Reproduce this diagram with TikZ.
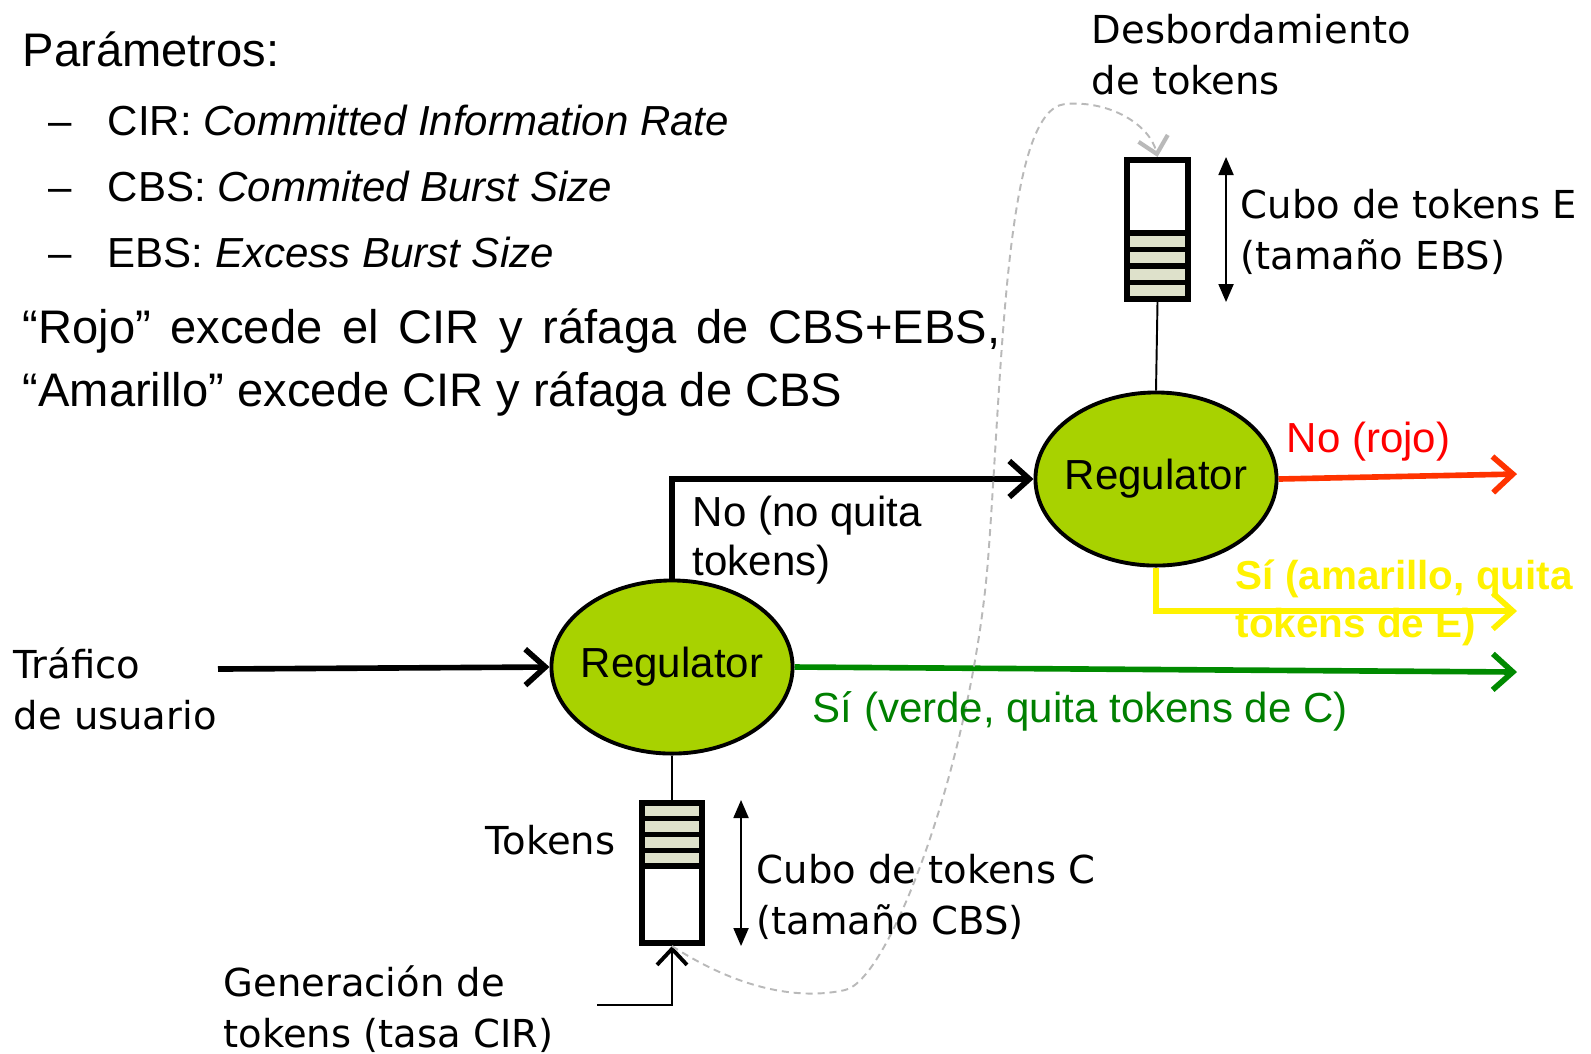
\documentclass[tikz,border=0pt]{standalone}
\usepackage{fontspec}
\setmainfont{Liberation Sans}
\newfontfamily\handfont{DejaVu Sans}
\usetikzlibrary{shapes.geometric,arrows.meta,positioning}
\definecolor{regfill}{RGB}{168,210,0}
\definecolor{okgreen}{RGB}{0,138,0}
\definecolor{oktext}{RGB}{0,128,0}
\definecolor{nored}{RGB}{255,51,0}
\definecolor{tokfill}{RGB}{222,225,203}
\definecolor{overgray}{RGB}{185,185,185}

\begin{document}
\begin{tikzpicture}[x=0.01cm,y=-0.01cm]
\tikzstyle{plain text}=[inner sep=0,anchor=base west,align=left,font=\fontsize{11.95}{13.9}\selectfont]
\tikzstyle{big text}=[inner sep=0,anchor=base west,font=\fontsize{13.4}{16}\selectfont]
\tikzstyle{hand text}=[inner sep=0,anchor=base west,align=left,font=\handfont\fontsize{10.95}{14.5}\selectfont]
\tikzset{
	regulator node/.style={ellipse,draw,line width=1.1pt,fill=regfill,minimum width=2.41cm,minimum height=1.73cm,inner xsep=-0.15cm,inner ysep=0,font=\fontsize{11.95}{14}\selectfont},
	bucket node/.style={rectangle,draw,line width=1.7pt,minimum width=0.61cm,minimum height=1.39cm,inner sep=0},
	flow/.style={line width=1.6pt,-{Straight Barb[length=2mm,width=3.6mm]}},
	thin line/.style={line width=0.55pt},
	size arrow/.style={line width=0.55pt,{Triangle[length=1.8mm,width=1.5mm]}-{Triangle[length=1.8mm,width=1.5mm]}},
	overflow/.style={overgray,line width=0.55pt,dash pattern=on 2pt off 1.4pt,-{Straight Barb[length=1.6mm,width=3mm,line width=1.2pt]}}
}
\useasboundingbox (0,0) rectangle (1591,1053);

% parameters text
\node[big text] (params) at (22,66) {Parámetros:};
\node[plain text] (dash1) at (48,135) {–};
\node[plain text] (cir) at (107,135) {CIR: \textit{Committed Information Rate}};
\node[plain text] (dash2) at (48,201) {–};
\node[plain text] (cbs) at (107,201) {CBS: \textit{Commited Burst Size}};
\node[plain text] (dash3) at (48,267) {–};
\node[plain text] (ebs) at (107,267) {EBS: \textit{Excess Burst Size}};
\node[big text] (rojo) at (22,343) {\makebox[9.77cm][s]{“Rojo” excede el CIR y ráfaga de CBS+EBS,}};
\node[big text] (amarillo) at (22,406) {“Amarillo” excede CIR y ráfaga de CBS};

% regulators
\node[regulator node] (regC) at (672,667) {Regulator};
\node[regulator node] (regE) at (1156,479) {Regulator};

% bucket E
\fill[tokfill] (1127,233) rectangle (1188,299);
\foreach \y in {233,249.5,266,282.5}
	\draw[line width=1.5pt] (1127,\y) -- (1188,\y);
\node[bucket node] (bktE) at (1157.5,229.5) {};

% bucket C
\fill[tokfill] (642,803) rectangle (702,866);
\foreach \y in {818.75,834.5,850.25,866}
	\draw[line width=1.5pt] (642,\y) -- (702,\y);
\node[bucket node,minimum width=0.6cm,minimum height=1.4cm] (bktC) at (672,873) {};

\draw[size arrow] ([xshift=0.35cm]bktE.north east) -- ([xshift=0.35cm]bktE.south east);
\draw[size arrow] ([xshift=0.36cm]bktC.north east) -- ([xshift=0.36cm]bktC.south east);

\draw[thin line] (bktE.south) -- (regE.north);
\draw[thin line] (regC.south) -- (bktC.north);

% flows
\coordinate (in) at (218,669);
\coordinate (outR) at (1517,474);
\coordinate (outY) at (1517,611);
\coordinate (outG) at (1517,672);
\coordinate (gen) at (597,1005);
\draw[flow] (in) -- (regC.west);
\draw[flow] (regC.north) |- (regE.west);
\draw[flow,nored] (regE.east) -- (outR);
\draw[flow,yellow] (regE.south) |- (outY);
\draw[flow,okgreen] (regC.east) -- (outG);
\draw[thin line,-{Straight Barb[length=1.6mm,width=3mm,line width=1.1pt]}] (gen) -| (bktC.south);
\draw[overflow] (bktC.south) .. controls (740,990) and (800,1000) .. (845,990)
	.. controls (890,980) and (972,760) .. (988,560)
	.. controls (1003,360) and (1005,110) .. (1065,104)
	.. controls (1110,100) and (1150,125) .. (bktE.north);

% labels (base of the last line)
\node[hand text] (overlbl) at (1091,94) {Desbordamiento\\de tokens};
\node[hand text] (bktElbl) at (1240,269) {Cubo de tokens E\\(tamaño EBS)};
\node[hand text] (inlbl) at (13,729) {Tráfico\\de usuario};
\node[hand text] (toklbl) at (485,854) {Tokens};
\node[hand text] (bktClbl) at (756,934) {Cubo de tokens C\\(tamaño CBS)};
\node[hand text] (genlbl) at (223,1047) {Generación de\\tokens (tasa CIR)};
\node[plain text] (nolbl) at (692,575) {No (no quita\\tokens)};
\node[plain text,text=red] (redlbl) at (1286,452) {No (rojo)};
\node[plain text,text=yellow,font=\bfseries\fontsize{11.5}{13.6}\selectfont] (yellbl) at (1235,637) {Sí (amarillo, quita\\tokens de E)};
\node[plain text,text=oktext] (greenlbl) at (812,722) {Sí (verde, quita tokens de C)};
\end{tikzpicture}
\end{document}
